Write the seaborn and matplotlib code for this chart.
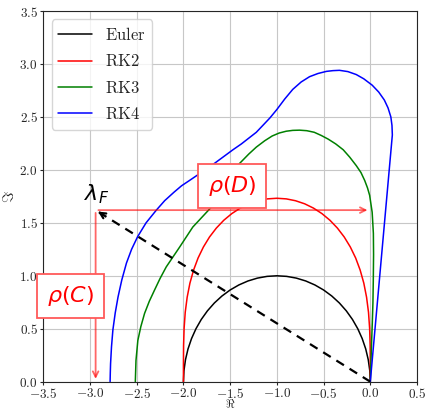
"""
Stability regions of explicit Runge-Kutta methods
"""

import matplotlib
matplotlib.use('Agg')
import matplotlib.pyplot as plt
from matplotlib.ticker import FuncFormatter

import seaborn as sns
import numpy as np
import pandas as pd


# Set style
sns.set_style('whitegrid', rc={
    'axes.edgecolor': '0.15',
    'grid.color': '0.78',
    'xtick.bottom': True,
    'ytick.left': True,
})
plt.rcParams['mathtext.fontset'] = 'cm'

# Boundaries of the stability regions (upper half plane)
euler_re = [-2.0, -1.9945, -1.9781, -1.9511, -1.9135, -1.866, -1.809, -1.7431, -1.6691, -1.5878, -1.5,
            -1.4067, -1.309, -1.2079, -1.1045, -1.0, -0.8955, -0.7921, -0.691, -0.5933, -0.5,
            -0.4122, -0.3309, -0.2569, -0.191, -0.134, -0.0865, -0.0489, -0.0219, -0.0055, 0.0]
euler_im = [0.0, 0.1045, 0.2079, 0.309, 0.4067, 0.5, 0.5878, 0.6691, 0.7431, 0.809, 0.866,
            0.9135, 0.9511, 0.9781, 0.9945, 1.0, 0.9945, 0.9781, 0.9511, 0.9135, 0.866,
            0.809, 0.7431, 0.6691, 0.5878, 0.5, 0.4067, 0.309, 0.2079, 0.1045, 0.0]

rk2_re = [-2.0, -1.9999, -1.9984, -1.9928, -1.9808, -1.96, -1.9306, -1.8914, -1.8434, -1.7861, -1.721,
          -1.6478, -1.5683, -1.4825, -1.3923, -1.2977, -1.2001, -1.1006, -1.0,
          -0.8994, -0.7999, -0.7023, -0.6077, -0.5175, -0.4317, -0.3522, -0.279, -0.2139, -0.1566,
          -0.1086, -0.0694, -0.04, -0.0192, -0.0072, -0.0016, -0.0001, 0.0]
rk2_im = [0.0, 0.1736, 0.3425, 0.5036, 0.6554, 0.798, 0.9306, 1.0541, 1.1678, 1.2721, 1.3662,
          1.4505, 1.5241, 1.5871, 1.6388, 1.6796, 1.7086, 1.7262, 1.732,
          1.7262, 1.7086, 1.6796, 1.6388, 1.5871, 1.5241, 1.4505, 1.3662, 1.2721, 1.1678,
          1.0541, 0.9306, 0.798, 0.6554, 0.5036, 0.3425, 0.1736, 0.0]

rk3_re = [-2.515, -2.508, -2.488, -2.456, -2.416, -2.365, -2.31, -2.25, -2.184, -2.04, -1.90, -1.71,
          -1.55, -1.40, -1.30, -1.22, -1.13, -1.05, -0.975, -0.90, -0.83, -0.757, -0.68, -0.60,
          -0.525, -0.45, -0.37, -0.29, -0.22, -0.15, -0.10, -0.06, -0.03, -0.007, 0.02, 0.033,
          0.035, 0.032, 0.028, 0.022, 0.015, 0.0]
rk3_im = [0.0, 0.2, 0.39, 0.52, 0.645, 0.76, 0.864, 0.975, 1.084, 1.272, 1.46, 1.64,
          1.86, 2.06, 2.15, 2.215, 2.275, 2.32, 2.348, 2.365, 2.373, 2.375, 2.37, 2.355,
          2.325, 2.29, 2.245, 2.19, 2.12, 2.04, 1.975, 1.90, 1.83, 1.76, 1.60, 1.40,
          1.2, 0.95, 0.74, 0.57, 0.4, 0.0]

rk4_re = [-2.785, -2.783, -2.78, -2.77, -2.755, -2.73, -2.70, -2.66, -2.61, -2.555, -2.49, -2.40,
          -2.29, -2.20, -2.10, -2.02, -1.935, -1.86, -1.80, -1.67, -1.57, -1.47, -1.38, -1.30,
          -1.22, -1.15, -1.075, -1.00, -0.915, -0.83, -0.74, -0.65, -0.56, -0.47, -0.40, -0.33,
          -0.24, -0.15, -0.07, 0.02, 0.09, 0.15, 0.19, 0.22, 0.232, 0.236, 0.0]
rk4_im = [0.0, 0.08, 0.17, 0.33, 0.49, 0.65, 0.80, 0.96, 1.12, 1.25, 1.37, 1.50,
          1.62, 1.71, 1.79, 1.85, 1.90, 1.945, 1.98, 2.06, 2.125, 2.19, 2.245, 2.30,
          2.355, 2.42, 2.49, 2.57, 2.67, 2.76, 2.83, 2.88, 2.91, 2.93, 2.937, 2.94,
          2.928, 2.90, 2.86, 2.80, 2.735, 2.66, 2.585, 2.50, 2.42, 2.33, 0.0]

methods = ['Euler', 'RK2', 'RK3', 'RK4']
colors = ['black', 'red', 'green', 'blue']

# Eigenvalue lambda_F and its projections
lam_re = -2.94
lam_im = 1.62

x_ticks = np.arange(-3.5, 0.51, 0.5)
y_ticks = np.arange(0.0, 3.51, 0.5)


def plot_stability_regions(save_path='out.png'):
    curves = [(euler_re, euler_im), (rk2_re, rk2_im), (rk3_re, rk3_im), (rk4_re, rk4_im)]
    df = pd.concat([
        pd.DataFrame({'re': re, 'im': im, 'method': m})
        for m, (re, im) in zip(methods, curves)
    ], ignore_index=True)

    fig = plt.figure(figsize=(4.27, 4.11), dpi=100)
    ax = fig.add_axes([0.1014, 0.0713, 0.8752, 0.9019])

    sns.lineplot(data=df, x='re', y='im', hue='method', hue_order=methods,
                 palette=dict(zip(methods, colors)), sort=False, estimator=None,
                 linewidth=1.1, ax=ax)

    # dashed line from the origin to lambda_F with a solid head
    ax.plot([0, lam_re], [0, lam_im], color='black', lw=1.6, ls=(0, (4, 3)), zorder=4)
    d = np.array([-lam_re, -lam_im]) / np.hypot(lam_re, lam_im) * 0.12
    ax.annotate('', xy=(lam_re, lam_im), xytext=(lam_re + d[0], lam_im + d[1]),
                arrowprops=dict(arrowstyle='->', color='black', lw=1.6), zorder=4)

    # projections onto the axes
    red_arrow = dict(arrowstyle='->', color='red', alpha=0.6, lw=1.3)
    ax.annotate('', xy=(0, lam_im), xytext=(lam_re, lam_im), arrowprops=red_arrow)
    ax.annotate('', xy=(lam_re, 0), xytext=(lam_re, lam_im), arrowprops=red_arrow)

    box = dict(boxstyle='square,pad=0.45', fc='white', ec=(1, 0.35, 0.35), lw=1.3)
    ax.text(-1.48, 1.85, r'$\rho(D)$', color='red', fontsize=16, math_fontfamily='dejavusans',
            ha='center', va='center', bbox=box, zorder=5)
    ax.text(-3.21, 0.81, r'$\rho(C)$', color='red', fontsize=16, math_fontfamily='dejavusans',
            ha='center', va='center', bbox=box, zorder=5)
    ax.text(-2.93, 1.77, r'$\lambda_F$', color='black', fontsize=16, math_fontfamily='dejavusans',
            ha='center', va='center')

    ax.set_xlim(-3.5, 0.5)
    ax.set_ylim(0, 3.5)
    ax.set_xticks(x_ticks)
    ax.set_yticks(y_ticks)
    fmt = FuncFormatter(lambda v, _: f'${v:.1f}$')
    ax.xaxis.set_major_formatter(fmt)
    ax.yaxis.set_major_formatter(fmt)
    ax.tick_params(labelsize=9.5, length=2.5, color='0.15')
    ax.tick_params(axis='x', pad=1.4)
    ax.tick_params(axis='y', pad=1.5)
    ax.set_xlabel(r'$\Re$', fontsize=8.5, va='bottom')
    ax.set_ylabel(r'$\Im$', fontsize=11)
    ax.xaxis.set_label_coords(0.5, -0.079)
    ax.yaxis.set_label_coords(-0.07, 0.5)

    handles, labels = ax.get_legend_handles_labels()
    ax.legend(handles, [rf'$\mathrm{{{l}}}$' for l in labels], loc='upper left', fontsize=12)

    plt.savefig(save_path, dpi=100)
    plt.close()


if __name__ == "__main__":
    plot_stability_regions('out.png')
